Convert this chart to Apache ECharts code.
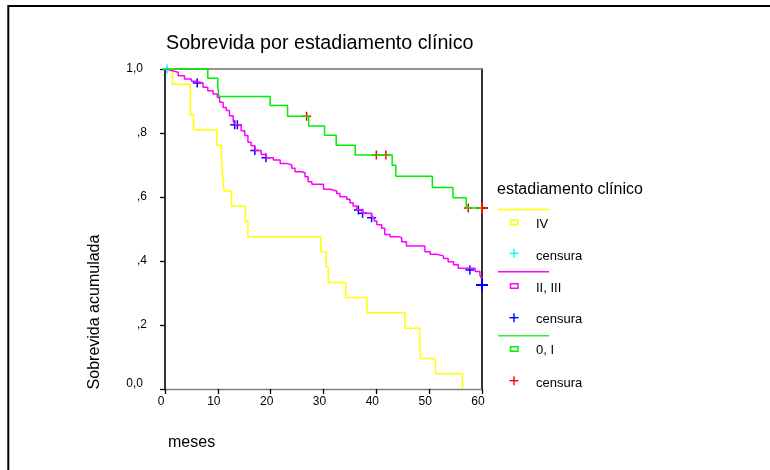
<!DOCTYPE html>
<html>
<head>
<meta charset="utf-8">
<script src="https://cdn.jsdelivr.net/npm/echarts@6/dist/echarts.min.js"></script>
<style>
html,body{margin:0;padding:0;background:#fff;}
#chart{width:770px;height:470px;}
</style>
</head>
<body>
<div id="chart"></div>
<script>
// ---- data ----
const monthTicks = [0, 10, 20, 30, 40, 50, 60];
const yTickLabels = ['0,0', ',2', ',4', ',6', ',8', '1,0'];

// Estadio IV (yellow)
const ivTime = [0, 1.4, 4.8, 5.4, 9.8, 10.7, 10.9, 11.2, 12.6, 15.2, 15.7, 29.5, 30.5, 30.9, 34.2, 38.2, 45.4, 48.2, 48.4, 51.2, 56.3];
const ivSurv = [1, 0.952, 0.857, 0.810, 0.762, 0.714, 0.667, 0.619, 0.571, 0.524, 0.476, 0.429, 0.381, 0.333, 0.286, 0.238, 0.190, 0.143, 0.095, 0.048, 0];
const ivCensTime = [0.4];
const ivCensSurv = [1.0];

// Estadio II, III (magenta)
const iiTime = [0, 0.4, 1.2, 2.5, 3.7, 5.0, 5.8, 7.2, 8.1, 9.1, 9.9, 10.35, 11.0, 11.6, 12.2, 12.9, 13.2, 14.4, 15.1, 15.7, 16.3, 17.0, 18.2, 19.1, 20.5, 21.8, 23.0, 24.0, 24.6, 25.9, 26.5, 27.1, 27.8, 30.0, 31.2, 32.5, 33.1, 34.4, 35.0, 35.6, 36.3, 37.4, 39.1, 39.6, 40.1, 41.0, 41.6, 42.6, 44.2, 44.8, 45.7, 49.2, 50.2, 51.4, 52.7, 53.6, 54.6, 55.5, 58.7, 59.6, 59.9, 60];
const iiSurv = [1, 0.995, 0.990, 0.979, 0.969, 0.962, 0.956, 0.943, 0.932, 0.922, 0.911, 0.896, 0.880, 0.870, 0.854, 0.838, 0.826, 0.807, 0.792, 0.771, 0.760, 0.745, 0.733, 0.723, 0.716, 0.705, 0.700, 0.690, 0.679, 0.676, 0.663, 0.648, 0.640, 0.624, 0.619, 0.611, 0.601, 0.593, 0.582, 0.572, 0.560, 0.549, 0.537, 0.525, 0.513, 0.502, 0.483, 0.476, 0.473, 0.460, 0.447, 0.429, 0.421, 0.416, 0.408, 0.398, 0.388, 0.377, 0.367, 0.356, 0.346, 0.346];
const iiCensTime = [6.1, 13.2, 13.7, 17.0, 19.1, 36.6, 37.4, 39.1, 57.7];
const iiCensSurv = [0.956, 0.826, 0.826, 0.745, 0.723, 0.559, 0.549, 0.535, 0.372];
const iiEndTime = [60];
const iiEndSurv = [0.325];

// Estadio 0, I (green)
const giTime = [0, 8.1, 10.0, 10.2, 19.9, 23.2, 27.2, 30.2, 32.4, 36.0, 43.0, 43.7, 50.6, 54.5, 57.0, 60];
const giSurv = [1, 0.971, 0.943, 0.914, 0.886, 0.852, 0.822, 0.793, 0.762, 0.731, 0.699, 0.665, 0.630, 0.598, 0.566, 0.566];
const giCensTime = [26.8, 40.0, 41.8, 57.4];
const giCensSurv = [0.852, 0.731, 0.731, 0.566];
const giEndTime = [60];
const giEndSurv = [0.566];

// ---- build ----
const zip = (a, b) => a.map((v, i) => [v, b[i]]);
const FONT = '"Liberation Sans", Arial, Helvetica, sans-serif';
const PLUS = 'path://M3.75,0H5.25V3.75H9V5.25H5.25V9H3.75V5.25H0V3.75H3.75Z';
const PLUS_BIG = 'path://M5,0H7V5H12V7H7V12H5V7H0V5H5Z';

function kmLine(name, t, s, color) {
  return {
    name: name, type: 'line', step: 'end', data: zip(t, s),
    showSymbol: false, symbol: 'none', clip: false,
    lineStyle: {color: color, width: 1.5}, silent: true
  };
}
function cens(t, s, color, sym, size) {
  return {
    type: 'scatter', data: zip(t, s), symbol: sym, symbolSize: size,
    symbolKeepAspect: true, clip: false, silent: true,
    itemStyle: {color: color, opacity: 1}
  };
}

const chart = echarts.init(document.getElementById('chart'), null, {renderer: 'canvas'});

const legendRows = [
  {kind: 'line', color: '#ffff00', y: 209.5},
  {kind: 'rect', color: '#ffff00', y: 222.3, label: 'IV', ly: 224},
  {kind: 'plus', color: '#00ffff', y: 253.3, label: 'censura', ly: 256.7},
  {kind: 'line', color: '#ff00ff', y: 271.7},
  {kind: 'rect', color: '#ff00ff', y: 286, label: 'II, III', ly: 288},
  {kind: 'plus', color: '#0000ff', y: 317.7, label: 'censura', ly: 319},
  {kind: 'line', color: '#33ee33', y: 335.7},
  {kind: 'rect', color: '#00ee00', y: 349, label: '0, I', ly: 350.7},
  {kind: 'plus', color: '#ff0000', y: 380.7, label: 'censura', ly: 383}
];

const graphics = [
  {type: 'rect', silent: true, shape: {x: 8.3, y: 6, width: 900, height: 600},
   style: {fill: 'none', stroke: '#000', lineWidth: 2}},
  {type: 'text', silent: true, x: 166, y: 44,
   style: {text: 'Sobrevida por estadiamento clínico', fontSize: 19.7, fontFamily: FONT, fill: '#000', align: 'left', verticalAlign: 'middle'}},
  {type: 'text', silent: true, x: 95, y: 312, rotation: Math.PI / 2,
   style: {text: 'Sobrevida acumulada', fontSize: 16, fontFamily: FONT, fill: '#000', align: 'center', verticalAlign: 'middle'}},
  {type: 'text', silent: true, x: 168, y: 443,
   style: {text: 'meses', fontSize: 16, fontFamily: FONT, fill: '#000', align: 'left', verticalAlign: 'middle'}},
  {type: 'text', silent: true, x: 497, y: 190,
   style: {text: 'estadiamento clínico', fontSize: 16, fontFamily: FONT, fill: '#000', align: 'left', verticalAlign: 'middle'}}
];
legendRows.forEach(r => {
  if (r.kind === 'line') {
    graphics.push({type: 'line', silent: true, shape: {x1: 498, y1: r.y, x2: 549, y2: r.y}, style: {stroke: r.color, lineWidth: 1.4}});
  } else if (r.kind === 'rect') {
    graphics.push({type: 'rect', silent: true, shape: {x: 510.5, y: r.y - 2.3, width: 7.5, height: 4.6}, style: {fill: 'none', stroke: r.color, lineWidth: 1.5}});
  } else {
    graphics.push({type: 'line', silent: true, shape: {x1: 509.5, y1: r.y, x2: 518.5, y2: r.y}, style: {stroke: r.color, lineWidth: 1.4}});
    graphics.push({type: 'line', silent: true, shape: {x1: 514, y1: r.y - 4.5, x2: 514, y2: r.y + 4.5}, style: {stroke: r.color, lineWidth: 1.4}});
  }
  if (r.label) {
    graphics.push({type: 'text', silent: true, x: 536, y: r.ly,
      style: {text: r.label, fontSize: 13, fontFamily: FONT, fill: '#000', align: 'left', verticalAlign: 'middle'}});
  }
});

const option = {
  animation: false,
  backgroundColor: '#ffffff',
  textStyle: {fontFamily: FONT},
  grid: {left: 165, top: 69, width: 317, height: 320, containLabel: false},
  xAxis: [
    {type: 'value', position: 'bottom', min: monthTicks[0], max: monthTicks[monthTicks.length - 1], interval: 10,
     axisLine: {show: true, lineStyle: {color: '#808080', width: 1.3}},
     axisTick: {show: true, length: 5, lineStyle: {color: '#000', width: 1.3}},
     axisLabel: {show: true, margin: 7, fontSize: 12, color: '#000', fontFamily: FONT, padding: [0, 8, 0, 0], showMinLabel: true, showMaxLabel: true},
     splitLine: {show: false}},
    {type: 'value', position: 'top', min: 0, max: 60,
     axisLine: {show: true, onZero: false, lineStyle: {color: '#707070', width: 1.5}},
     axisTick: {show: false}, axisLabel: {show: false}, splitLine: {show: false}}
  ],
  yAxis: [
    {type: 'value', position: 'left', min: 0, max: 1, interval: 0.2,
     axisLine: {show: true, onZero: false, lineStyle: {color: '#000', width: 1.6}},
     axisTick: {show: true, length: 5, lineStyle: {color: '#000', width: 1.3}},
     axisLabel: {show: true, margin: 18, fontSize: 12, color: '#000', fontFamily: FONT, showMinLabel: true, showMaxLabel: true,
       formatter: function (v) {
         const i = Math.round(v / 0.2);
         const t = yTickLabels[i];
         if (i === 0) return '{z|' + t + '}';
         if (i === yTickLabels.length - 1) return '{r|' + t + '}';
         return t;
       },
       rich: {
         z: {fontSize: 12, fontFamily: FONT, color: '#000', padding: [0, 4, 10, 0]},
         r: {fontSize: 12, fontFamily: FONT, color: '#000', padding: [0, 4, 0, 0]}
       }},
     splitLine: {show: false}},
    {type: 'value', position: 'right', min: 0, max: 1,
     axisLine: {show: true, onZero: false, lineStyle: {color: '#000', width: 1.6}},
     axisTick: {show: false}, axisLabel: {show: false}, splitLine: {show: false}}
  ],
  graphic: graphics,
  series: [
    kmLine('IV', ivTime, ivSurv, '#ffff00'),
    kmLine('II, III', iiTime, iiSurv, '#ff00ff'),
    kmLine('0, I', giTime, giSurv, '#00ee00'),
    cens(ivCensTime, ivCensSurv, '#00ffff', PLUS, 9),
    cens(iiCensTime, iiCensSurv, '#0000ff', PLUS, 9),
    cens(iiEndTime, iiEndSurv, '#0000ff', PLUS_BIG, 12),
    cens(giCensTime, giCensSurv, '#ff0000', PLUS, 9),
    cens(giEndTime, giEndSurv, '#ff0000', PLUS_BIG, 12)
  ]
};
chart.setOption(option);
</script>
</body>
</html>
